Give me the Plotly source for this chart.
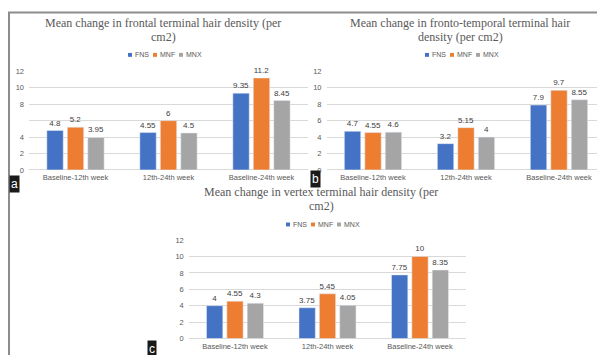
import plotly.graph_objects as go

# ---------------- data ----------------
categories = ["Baseline-12th week", "12th-24th week", "Baseline-24th week"]
series_names = ["FNS", "MNF", "MNX"]
series_colors = ["#4472C4", "#ED7D31", "#A5A5A5"]

frontal_fns = [4.8, 4.55, 9.35]
frontal_mnf = [5.2, 6, 11.2]
frontal_mnx = [3.95, 4.5, 8.45]

fronto_fns = [4.7, 3.2, 7.9]
fronto_mnf = [4.55, 5.15, 9.7]
fronto_mnx = [4.6, 4, 8.55]

vertex_fns = [4, 3.75, 7.75]
vertex_mnf = [4.55, 5.45, 10]
vertex_mnx = [4.3, 4.05, 8.35]

titles = [
    ["Mean change in frontal terminal hair density (per", "cm2)"],
    ["Mean change in fronto-temporal terminal hair", "density (per cm2)"],
    ["Mean change in vertex terminal hair density (per", "cm2)"],
]
panel_letters = ["a", "b", "c"]
ytick_vals = [0, 2, 4, 6, 8, 10, 12]
ytick_text_a = ["0", "2", "4", "", "8", "10", "12"]
ytick_text = ["0", "2", "4", "6", "8", "10", "12"]

# ---------------- layout helpers ----------------
W, H = 605, 355
def px(x):
    return x / W
def py(y):
    return 1 - y / H

SANS = "Liberation Sans"
SERIF = "Liberation Serif"
GRAY = "#595959"

panels = [
    dict(data=[frontal_fns, frontal_mnf, frontal_mnx], xd=(21, 300), yd=(162, 61),
         title_x=155, title_y=(11, 25.5), leg_x=155, leg_y=44, letter=(1, 176), yt=ytick_text_a),
    dict(data=[fronto_fns, fronto_mnf, fronto_mnx], xd=(318.5, 597.5), yd=(162, 61),
         title_x=452, title_y=(11, 25.5), leg_x=452, leg_y=44, letter=(302, 171), yt=ytick_text),
    dict(data=[vertex_fns, vertex_mnf, vertex_mnx], xd=(180.75, 458.25), yd=(335, 234),
         title_x=313, title_y=(184.5, 199), leg_x=313, leg_y=218, letter=(139, 346), yt=ytick_text),
]

fig = go.Figure()
annotations = []
shapes = []

for i, p in enumerate(panels):
    suffix = "" if i == 0 else str(i + 1)
    for s, name in enumerate(series_names):
        fig.add_trace(go.Bar(
            x=categories, y=p["data"][s], name=name,
            marker_color=series_colors[s],
            text=[str(v) for v in p["data"][s]],
            textposition="outside",
            textfont=dict(family=SANS, size=8, color="#404040"),
            cliponaxis=False,
            showlegend=False,
            xaxis="x" + suffix, yaxis="y" + suffix,
        ))
    fig.update_layout(**{
        "xaxis" + suffix: dict(
            domain=[px(p["xd"][0]), px(p["xd"][1])],
            anchor="y" + suffix,
            showgrid=False, showline=False, ticks="",
            tickfont=dict(family=SANS, size=7.5, color=GRAY),
            ticklabelstandoff=2,
            fixedrange=True,
        ),
        "yaxis" + suffix: dict(
            domain=[py(p["yd"][0]), py(p["yd"][1])],
            anchor="x" + suffix,
            range=[0, 12],
            tickvals=ytick_vals, ticktext=p["yt"],
            showgrid=True, gridcolor="#D9D9D9", gridwidth=1,
            zeroline=True, zerolinecolor="#D9D9D9", zerolinewidth=1,
            showline=False, ticks="",
            tickfont=dict(family=SANS, size=7.5, color=GRAY),
            ticklabelstandoff=4,
            fixedrange=True,
        ),
    })
    # title (two lines, placed individually)
    for li, line in enumerate(titles[i]):
        annotations.append(dict(
            x=px(p["title_x"]), y=py(p["title_y"][li]),
            xref="paper", yref="paper", xanchor="center", yanchor="middle",
            text=line, showarrow=False, align="center", borderpad=0,
            font=dict(family=SERIF, size=12, color=GRAY),
        ))
    # legend (manual, compact like the original)
    offsets = [-35, -10, 16]
    for s, name in enumerate(series_names):
        sx = p["leg_x"] + offsets[s]
        shapes.append(dict(
            type="rect", xref="paper", yref="paper",
            x0=px(sx), x1=px(sx + 4), y0=py(p["leg_y"] + 2), y1=py(p["leg_y"] - 2),
            fillcolor=series_colors[s], line=dict(width=0),
        ))
        annotations.append(dict(
            x=px(sx + 5), y=py(p["leg_y"]), xref="paper", yref="paper",
            xanchor="left", yanchor="middle", text=name, showarrow=False,
            font=dict(family=SANS, size=7, color=GRAY),
        ))
    # panel letter
    annotations.append(dict(
        x=px(p["letter"][0]), y=py(p["letter"][1]), xref="paper", yref="paper",
        xanchor="left", yanchor="middle", text=panel_letters[i], showarrow=False,
        font=dict(family=SANS, size=12, color="white"),
        bgcolor="#1a1a1a", borderpad=1,
    ))

# outer border
shapes.append(dict(type="rect", xref="paper", yref="paper",
                   x0=px(1), x1=px(604), y0=py(354), y1=py(0.5),
                   line=dict(color="#8c8c8c", width=2), fillcolor="rgba(0,0,0,0)"))

fig.update_layout(
    width=W, height=H,
    margin=dict(l=0, r=0, t=0, b=0),
    paper_bgcolor="white", plot_bgcolor="white",
    barmode="group", bargap=0.34, bargroupgap=0.2,
    annotations=annotations, shapes=shapes,
    showlegend=False,
)

fig.write_html("out.html")
